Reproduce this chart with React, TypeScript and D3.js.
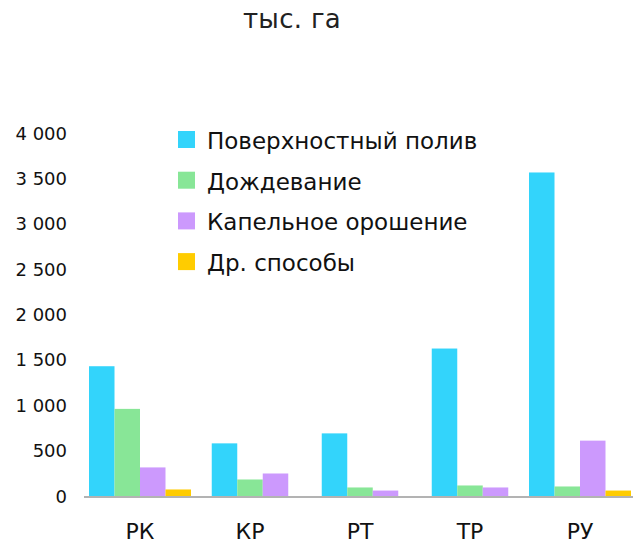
import React from "react";
import * as d3 from "d3";

const categories = ["РК", "КР", "РТ", "ТР", "РУ"];
const seriesNames = ["Поверхностный полив", "Дождевание", "Капельное орошение", "Др. способы"];
const surface = [1430, 580, 690, 1625, 3565];
const sprinkler = [960, 182, 94, 116, 105];
const drip = [315, 248, 60, 94, 610];
const other = [72, 0, 0, 0, 60];
const colors = ["#33d4fb", "#88e697", "#cc99fd", "#ffcc00"];
const yTicks = [0, 500, 1000, 1500, 2000, 2500, 3000, 3500, 4000];
const unitLabel = "тыс. га";

const W = 633;
const H = 542;
const FONT = "'DejaVu Sans', sans-serif";

export default function App() {
  const series = [surface, sprinkler, drip, other];
  const x = d3.scaleBand<string>().domain(categories).range([85, 635]).padding(0);
  const y = d3.scaleLinear().domain([0, 4000]).range([496, 133]);
  const barW = 25.5;
  const fmt = d3.formatLocale({ decimal: ",", thousands: "\u00a0", grouping: [3], currency: ["", ""] }).format(",d");

  const bars: React.ReactNode[] = [];
  categories.forEach((c, ci) => {
    const present = series.map((s, si) => ({ si, v: s[ci] })).filter((d) => d.v > 0);
    const cx = (x(c) as number) + x.bandwidth() / 2;
    const start = cx - (present.length * barW) / 2;
    present.forEach((d, k) => {
      bars.push(
        <rect
          key={`${ci}-${d.si}`}
          x={start + k * barW}
          y={y(d.v)}
          width={barW}
          height={y(0) - y(d.v)}
          fill={colors[d.si]}
        />
      );
    });
  });

  return (
    <svg width={W} height={H} style={{ position: "absolute", left: 0, top: 0, background: "#fff" }} fontFamily={FONT}>
      <text x={292} y={28} textAnchor="middle" fontSize={26} fill="#222" letterSpacing={0.3}>
        {unitLabel}
      </text>
      {yTicks.map((t) => (
        <text key={t} x={67} y={y(t) + 6.5} textAnchor="end" fontSize={18} fill="#111">
          {fmt(t)}
        </text>
      ))}
      {bars}
      <line x1={84} x2={633} y1={y(0) + 1} y2={y(0) + 1} stroke="#b3b3b3" strokeWidth={2} />
      {categories.map((c) => (
        <text key={c} x={(x(c) as number) + x.bandwidth() / 2} y={539} textAnchor="middle" fontSize={22} fill="#111">
          {c}
        </text>
      ))}
      {seriesNames.map((n, i) => (
        <g key={n} transform={`translate(178, ${139.5 + i * 40.7})`}>
          <rect x={0} y={-8.5} width={17} height={17} fill={colors[i]} />
          <text x={29} y={9.5} fontSize={23} fill="#111">
            {n}
          </text>
        </g>
      ))}
    </svg>
  );
}
